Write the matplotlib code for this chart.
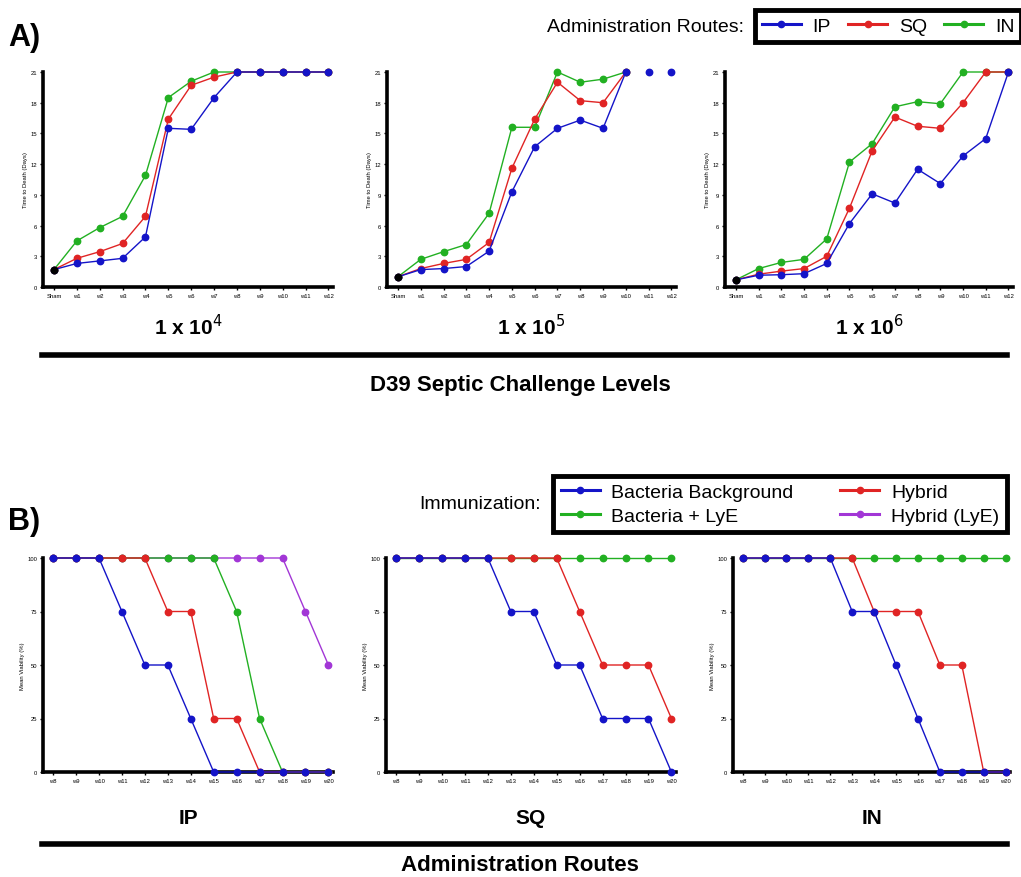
import matplotlib
matplotlib.use("Agg")
import matplotlib.pyplot as plt
from matplotlib.lines import Line2D

plt.rcParams["font.family"] = ["Liberation Sans", "DejaVu Sans"]

W, H = 1021, 878

# ---- panel A: time to death (days) vs. week, three challenge doses
A_WEEKS = ["Sham", "w1", "w2", "w3", "w4", "w5", "w6", "w7", "w8", "w9", "w10", "w11", "w12"]
A_DOSES = [r"1 x 10$^{4}$", r"1 x 10$^{5}$", r"1 x 10$^{6}$"]
A_IP = [
    [1.7, 2.3, 2.55, 2.8, 4.9, 15.5, 15.4, 18.5, 21, 21, 21, 21, 21],
    [1.0, 1.7, 1.8, 2.0, 3.5, 9.3, 13.7, 15.5, 16.3, 15.5, 21, None, None],
    [0.7, 1.15, 1.2, 1.3, 2.3, 6.2, 9.1, 8.2, 11.5, 10.1, 12.8, 14.5, 21],
]
A_IP_TAIL = [[], [21, 21], []]   # unconnected points at w11, w12 (middle panel)
A_SQ = [
    [1.7, 2.8, 3.45, 4.25, 6.9, 16.4, 19.7, 20.5, 21, 21, 21, 21, 21],
    [1.0, 1.8, 2.3, 2.7, 4.35, 11.6, 16.4, 20.0, 18.2, 18.0, 21, None, None],
    [0.7, 1.25, 1.55, 1.8, 3.0, 7.7, 13.3, 16.6, 15.7, 15.5, 18.0, 21, 21],
]
A_IN = [
    [1.7, 4.5, 5.8, 6.9, 10.9, 18.5, 20.1, 21, 21, 21, 21, 21, 21],
    [1.0, 2.7, 3.45, 4.15, 7.2, 15.6, 15.6, 21, 20.0, 20.3, 21, None, None],
    [0.7, 1.8, 2.4, 2.7, 4.7, 12.2, 14.0, 17.6, 18.1, 17.9, 21, 21, 21],
]

# ---- panel B: mean viability (%) vs. week, three routes
B_WEEKS = ["w8", "w9", "w10", "w11", "w12", "w13", "w14", "w15", "w16", "w17", "w18", "w19", "w20"]
B_ROUTES = ["IP", "SQ", "IN"]
B_BACT = [
    [100, 100, 100, 75, 50, 50, 25, 0, 0, 0, 0, 0, 0],
    [100, 100, 100, 100, 100, 75, 75, 50, 50, 25, 25, 25, 0],
    [100, 100, 100, 100, 100, 75, 75, 50, 25, 0, 0, 0, 0],
]
B_HYB = [
    [100, 100, 100, 100, 100, 75, 75, 25, 25, 0, 0, 0, 0],
    [100, 100, 100, 100, 100, 100, 100, 100, 75, 50, 50, 50, 25],
    [100, 100, 100, 100, 100, 100, 75, 75, 75, 50, 50, 0, 0],
]
B_BACT_LYE = [
    [100, 100, 100, 100, 100, 100, 100, 100, 75, 25, 0, 0, 0],
    [100] * 13,
    [100] * 13,
]
B_HYB_LYE = [
    [100, 100, 100, 100, 100, 100, 100, 100, 100, 100, 100, 75, 50],
    None,
    None,
]

BLUE, RED, GREEN, PURPLE = "#1414c8", "#e02424", "#22b022", "#a236d6"


def px_axes(fig, x0, y0, x1, y1):
    return fig.add_axes([x0 / W, 1 - y1 / H, (x1 - x0) / W, (y1 - y0) / H])


def style(ax, ylabel):
    for s in ("top", "right"):
        ax.spines[s].set_visible(False)
    for s in ("left", "bottom"):
        ax.spines[s].set_linewidth(2.6)
    ax.tick_params(length=2.5, width=1.0, labelsize=4.2, pad=1.5)
    ax.set_ylabel(ylabel, fontsize=4.2, labelpad=2)


def line(ax, x, y, col, z):
    pts = [(a, b) for a, b in zip(x, y) if b is not None]
    ax.plot([p[0] for p in pts], [p[1] for p in pts], "-", color=col, lw=1.0,
            marker="o", ms=4.6, mec=col, mfc=col, zorder=z, clip_on=False)


fig = plt.figure(figsize=(W / 100, H / 100), dpi=100)

# ---------------- A
A_X = [(43, 333), (387, 676), (725, 1013)]
xa = list(range(len(A_WEEKS)))
for i, (x0, x1) in enumerate(A_X):
    ax = px_axes(fig, x0, 73, x1, 288)
    line(ax, xa, A_IN[i], GREEN, 3)
    line(ax, xa, A_SQ[i], RED, 4)
    line(ax, xa, A_IP[i], BLUE, 5)
    if A_IP_TAIL[i]:
        xt = xa[-len(A_IP_TAIL[i]):]
        ax.plot(xt, A_IP_TAIL[i], "o", color=BLUE, ms=4.6, zorder=5, clip_on=False)
    ax.plot([0], [A_IP[i][0]], "o", color="black", ms=4.6, zorder=6, clip_on=False)
    ax.set_xlim(-0.48, 12.2)
    ax.set_ylim(0, 21)
    ax.set_yticks(range(0, 22, 3))
    ax.set_xticks(xa)
    ax.set_xticklabels(A_WEEKS)
    style(ax, "Time to Death (Days)")
    fig.text((x0 + x1) / 2 / W, 1 - 327 / H, A_DOSES[i], ha="center", va="center",
             fontsize=15, fontweight="bold")

fig.add_artist(Line2D([42 / W, 1007 / W], [1 - 356 / H] * 2, color="black", lw=4))
fig.text(520 / W, 1 - 386 / H, "D39 Septic Challenge Levels", ha="center", va="center",
         fontsize=16, fontweight="bold")
fig.text(8 / W, 1 - 38 / H, "A)", ha="left", va="center", fontsize=22, fontweight="bold")

fig.text(744 / W, 1 - 27 / H, "Administration Routes:", ha="right", va="center", fontsize=14)
hA = [Line2D([], [], color=c, lw=2.2, marker="o", ms=4.5) for c in (BLUE, RED, GREEN)]
legA = fig.legend(hA, ["IP", "SQ", "IN"], ncol=3, loc="center", fontsize=14,
                  bbox_to_anchor=(888 / W, 1 - 27 / H), frameon=True, fancybox=False,
                  handlelength=2.0, handletextpad=0.6, columnspacing=0.9,
                  borderpad=0.35, edgecolor="black", framealpha=1)
legA.get_frame().set_linewidth(3.5)

# ---------------- B
B_X = [(43, 333, 12.2), (386, 676, 12.2), (733, 1010, 12.2)]
xb = list(range(len(B_WEEKS)))
for i, (x0, x1, xr) in enumerate(B_X):
    ax = px_axes(fig, x0, 559, x1, 773)
    if B_HYB_LYE[i] is not None:
        line(ax, xb, B_HYB_LYE[i], PURPLE, 2)
    line(ax, xb, B_BACT_LYE[i], GREEN, 3)
    line(ax, xb, B_HYB[i], RED, 4)
    line(ax, xb, B_BACT[i], BLUE, 5)
    ax.set_xlim(-0.44, xr)
    ax.set_ylim(0, 100)
    ax.set_yticks([0, 25, 50, 75, 100])
    ax.set_xticks(xb)
    ax.set_xticklabels(B_WEEKS)
    style(ax, "Mean Viability (%)")
    fig.text((x0 + x1) / 2 / W, 1 - 819 / H, B_ROUTES[i], ha="center",
             va="center", fontsize=15, fontweight="bold")

fig.add_artist(Line2D([42 / W, 1007 / W], [1 - 845 / H] * 2, color="black", lw=4))
fig.text(520 / W, 1 - 866 / H, "Administration Routes", ha="center", va="center",
         fontsize=16, fontweight="bold")
fig.text(8 / W, 1 - 522 / H, "B)", ha="left", va="center", fontsize=22, fontweight="bold")

fig.text(541 / W, 1 - 505 / H, "Immunization:", ha="right", va="center", fontsize=14)
hB = [Line2D([], [], color=c, lw=2.2, marker="o", ms=4.5) for c in (BLUE, GREEN, RED, PURPLE)]
legB = fig.legend(hB, ["Bacteria Background", "Bacteria + LyE", "Hybrid", "Hybrid (LyE)"],
                  ncol=2, loc="center", fontsize=14,
                  bbox_to_anchor=(780 / W, 1 - 505 / H), frameon=True, fancybox=False,
                  handlelength=2.0, handletextpad=0.6, columnspacing=2.4,
                  borderpad=0.4, labelspacing=0.3, edgecolor="black", framealpha=1)
legB.get_frame().set_linewidth(3.5)

fig.savefig("out.png", dpi=100, facecolor="white")
